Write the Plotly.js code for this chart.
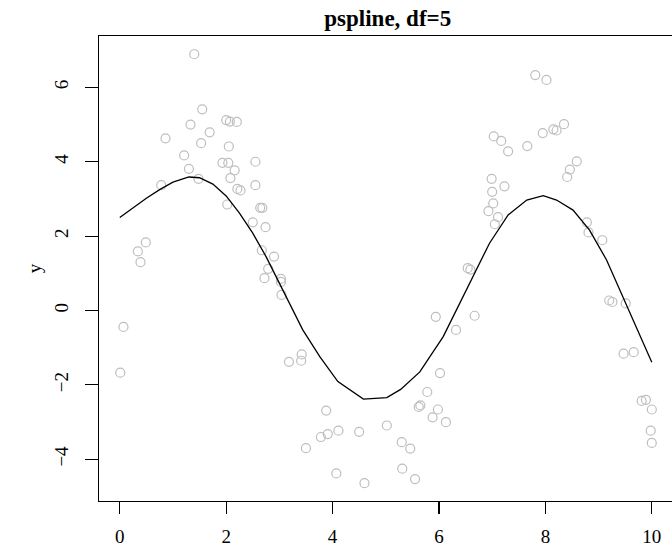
<!DOCTYPE html>
<html>
<head>
<meta charset="utf-8">
<script src="https://cdn.plot.ly/plotly-3.0.1.min.js"></script>
<style>html,body{margin:0;padding:0;background:#fff;}#chart{width:672px;height:549px;}</style>
</head>
<body>
<div id="chart"></div>
<script>
var pointX = [1.40,1.55,1.33,1.69,0.86,1.53,2.00,2.07,2.20,2.05,1.21,1.93,2.04,2.55,1.30,2.16,1.48,2.08,0.78,2.55,
  2.21,2.27,2.02,2.64,2.68,2.50,2.74,0.49,0.34,0.39,2.67,2.90,2.79,2.72,3.03,3.03,3.04,0.07,0.01,3.18,
  5.94,6.32,3.42,3.41,6.02,5.78,5.62,5.65,5.98,5.88,6.13,3.88,3.78,3.91,4.11,4.50,5.02,5.30,5.46,3.50,
  4.07,4.60,5.31,5.55,7.81,8.02,7.03,7.17,7.30,7.66,7.95,8.15,8.21,8.35,8.59,8.46,8.41,6.99,7.23,7.00,
  7.02,6.93,7.11,7.05,8.78,8.81,9.07,6.54,6.59,6.67,9.20,9.26,9.51,9.47,9.66,9.81,9.89,10.00,9.98,10.00];
var pointY = [6.89,5.41,5.00,4.79,4.63,4.50,5.12,5.08,5.07,4.41,4.17,3.97,3.97,4.00,3.81,3.77,3.54,3.56,3.37,3.37,
  3.27,3.23,2.85,2.76,2.76,2.37,2.24,1.83,1.59,1.30,1.62,1.45,1.12,0.87,0.85,0.77,0.42,-0.44,-1.67,-1.38,
  -0.17,-0.52,-1.18,-1.35,-1.68,-2.19,-2.59,-2.55,-2.66,-2.87,-3.00,-2.69,-3.40,-3.32,-3.23,-3.26,-3.09,-3.54,-3.71,-3.70,
  -4.38,-4.64,-4.25,-4.53,6.33,6.20,4.68,4.56,4.28,4.42,4.77,4.87,4.84,5.01,4.01,3.79,3.59,3.54,3.34,3.19,
  2.88,2.67,2.51,2.32,2.37,2.10,1.89,1.14,1.10,-0.14,0.27,0.23,0.19,-1.16,-1.12,-2.43,-2.40,-2.66,-3.23,-3.56];

var fitX = [0,0.25,0.5,0.75,1.0,1.3,1.5,1.75,2.0,2.25,2.5,2.75,3.0,3.29,3.44,3.76,4.10,4.58,5.02,5.28,5.64,6.08,6.39,6.64,6.95,7.30,7.65,7.96,8.21,8.52,8.83,9.15,9.46,9.77,10.0];
var fitY = [2.50,2.76,3.02,3.25,3.45,3.59,3.57,3.40,3.08,2.62,2.08,1.45,0.75,-0.08,-0.52,-1.24,-1.91,-2.38,-2.34,-2.12,-1.65,-0.70,0.20,0.91,1.81,2.57,2.97,3.09,2.97,2.70,2.16,1.36,0.37,-0.61,-1.39];

var xTicks = [0,2,4,6,8,10];
var yTicks = [-4,-2,0,2,4,6];
var yTickText = ["\u22124","\u22122","0","2","4","6"];

var font = "Liberation Serif, Times New Roman, serif";

var traces = [
  {x: pointX, y: pointY, type: "scatter", mode: "markers",
   marker: {symbol: "circle-open", size: 9, color: "#BEBEBE", line: {width: 1.2, color: "#BEBEBE"}},
   hoverinfo: "skip"},
  {x: fitX, y: fitY, type: "scatter", mode: "lines",
   line: {color: "#000000", width: 1.3}, hoverinfo: "skip"}
];

var layout = {
  width: 672, height: 549,
  margin: {l: 99, r: 0, t: 36, b: 48, pad: 0},
  paper_bgcolor: "#ffffff", plot_bgcolor: "#ffffff",
  showlegend: false,
  font: {family: font, color: "#000000", size: 19},
  title: {text: "<b>pspline, df=5</b>", font: {family: font, size: 23, color: "#000"},
          x: 0.577, xanchor: "center", y: 0.982, yanchor: "top"},
  xaxis: {range: [-0.39, 10.38], tickvals: xTicks, ticktext: xTicks.map(String),
          showgrid: false, zeroline: false, showline: true, mirror: true, linecolor: "#000", linewidth: 1.3,
          ticks: "outside", ticklen: 12, tickwidth: 1.1, tickcolor: "#000",
          tickfont: {family: font, size: 19}, ticklabelstandoff: 6},
  yaxis: {range: [-5.12, 7.38], tickvals: yTicks, ticktext: yTickText, tickangle: -90,
          showgrid: false, zeroline: false, showline: true, mirror: false, linecolor: "#000", linewidth: 1.3,
          ticks: "outside", ticklen: 13, tickwidth: 1.1, tickcolor: "#000",
          tickfont: {family: font, size: 19}, ticklabelstandoff: 9,
          title: {text: "y", font: {family: font, size: 19}, standoff: 4}}
};

Plotly.newPlot("chart", traces, layout, {staticPlot: true, displayModeBar: false});
</script>
</body>
</html>
